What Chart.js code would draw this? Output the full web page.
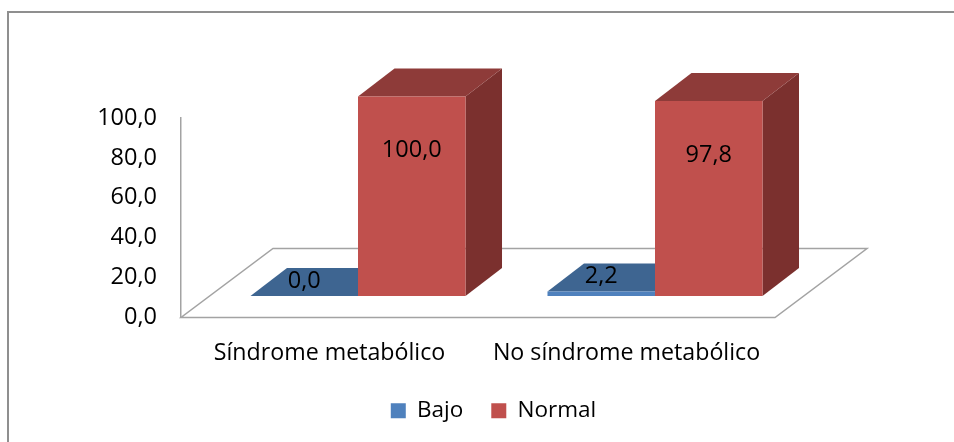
<!DOCTYPE html>
<html>
<head>
<meta charset="utf-8">
<script src="https://cdn.jsdelivr.net/npm/chart.js@4.4.1/dist/chart.umd.min.js"></script>
<style>
  html, body { margin: 0; padding: 0; background: #ffffff; overflow: hidden; }
  #wrap { width: 954px; height: 442px; }
</style>
</head>
<body>
<div id="wrap"><canvas id="chart" width="954" height="442"></canvas></div>
<script>
// Categories, series and tick labels
const categories = ['Síndrome metabólico', 'No síndrome metabólico'];
const seriesNames = ['Bajo', 'Normal'];
const bajoValues = [0.0, 2.2];
const normalValues = [100.0, 97.8];
const yTicks = [0, 20, 40, 60, 80, 100];

const FONT = '"Open Sans", "Noto Sans", sans-serif';
const fmt = v => v.toFixed(1).replace('.', ',');

// Face colours for each series: front, top, side
const palette = [
  { front: '#4F81BD', top: '#3E6591', side: '#355780' },
  { front: '#C0504D', top: '#8E3B39', side: '#7B302E' }
];

// Oblique 3D geometry: floor depth vector, bar front offset and bar depth
const FLOOR_DEPTH = { x: 92, y: -69 };
const BAR_FRONT = { x: 28.5, y: -21.5 };
const BAR_DEPTH = { x: 36.5, y: -28 };
const LABEL_DY = [-15, 54]; // label offset from the top of the front face

const frame3d = {
  id: 'frame3d',
  beforeDraw(chart) {
    const c = chart.ctx;
    c.save();
    c.fillStyle = '#ffffff';
    c.fillRect(0, 0, chart.width, chart.height);
    c.strokeStyle = '#8f8f8f';
    c.lineWidth = 2;
    c.strokeRect(8, 12, chart.width + 20, chart.height + 20);
    c.restore();
  },
  beforeDatasetsDraw(chart) {
    const c = chart.ctx;
    const a = chart.chartArea;
    c.save();
    // floor
    c.strokeStyle = '#a3a3a3';
    c.lineWidth = 1.5;
    c.beginPath();
    c.moveTo(a.left, a.bottom);
    c.lineTo(a.right, a.bottom);
    c.lineTo(a.right + FLOOR_DEPTH.x, a.bottom + FLOOR_DEPTH.y);
    c.lineTo(a.left + FLOOR_DEPTH.x, a.bottom + FLOOR_DEPTH.y);
    c.closePath();
    c.stroke();

    const poly = (pts, fill) => {
      c.beginPath();
      c.moveTo(pts[0][0], pts[0][1]);
      for (let i = 1; i < pts.length; i++) c.lineTo(pts[i][0], pts[i][1]);
      c.closePath();
      c.fillStyle = fill;
      c.fill();
    };

    const labels = [];
    const n = chart.data.labels.length;
    for (let i = 0; i < n; i++) {
      chart.data.datasets.forEach((ds, d) => {
        const el = chart.getDatasetMeta(d).data[i];
        const col = palette[d];
        const l = el.x - el.width / 2 + BAR_FRONT.x;
        const r = el.x + el.width / 2 + BAR_FRONT.x;
        const t = el.y + BAR_FRONT.y;
        const b = el.base + BAR_FRONT.y;
        const dx = BAR_DEPTH.x, dy = BAR_DEPTH.y;
        // side
        poly([[r, b], [r + dx, b + dy], [r + dx, t + dy], [r, t]], col.side);
        // top
        poly([[l, t], [r, t], [r + dx, t + dy], [l + dx, t + dy]], col.top);
        // front
        if (b - t > 0) poly([[l, b], [r, b], [r, t], [l, t]], col.front);
        labels.push({ x: (l + r) / 2, y: t + LABEL_DY[d], text: fmt(ds.data[i]) });
      });
    }
    c.fillStyle = '#000000';
    c.font = '23.5px ' + FONT;
    c.textAlign = 'center';
    c.textBaseline = 'middle';
    labels.forEach(lb => c.fillText(lb.text, lb.x, lb.y));
    c.restore();
    return false;
  }
};

new Chart(document.getElementById('chart'), {
  type: 'bar',
  data: {
    labels: categories,
    datasets: [
      { label: seriesNames[0], data: bajoValues, backgroundColor: palette[0].front },
      { label: seriesNames[1], data: normalValues, backgroundColor: palette[1].front }
    ]
  },
  options: {
    responsive: false,
    animation: false,
    events: [],
    categoryPercentage: 0.724,
    barPercentage: 1.0,
    layout: { padding: { left: 33, right: 0, top: 118, bottom: 10 } },
    plugins: {
      tooltip: { enabled: false },
      legend: {
        position: 'bottom',
        labels: {
          boxWidth: 15,
          boxHeight: 15,
          padding: 28,
          color: '#000000',
          font: { family: FONT, size: 22.5 }
        }
      }
    },
    scales: {
      x: {
        grid: { display: false, drawTicks: false },
        border: { display: false },
        ticks: { color: '#000000', padding: 22, font: { family: FONT, size: 23.2 } },
        afterFit(s) { s.height = 54; }
      },
      y: {
        min: 0,
        max: 100,
        afterBuildTicks(s) { s.ticks = yTicks.map(v => ({ value: v })); },
        grid: { display: false, drawTicks: false },
        border: { display: true, color: '#a3a3a3', width: 1.5 },
        ticks: {
          color: '#000000',
          padding: 24,
          font: { family: FONT, size: 23.5 },
          callback: v => fmt(v)
        },
        afterFit(s) { s.width = 148; }
      },
      // empty space to the right of the floor
      yRight: {
        position: 'right',
        grid: { display: false, drawTicks: false },
        border: { display: false },
        ticks: { display: false },
        afterFit(s) { s.width = 179; }
      }
    }
  },
  plugins: [frame3d]
});
</script>
</body>
</html>
